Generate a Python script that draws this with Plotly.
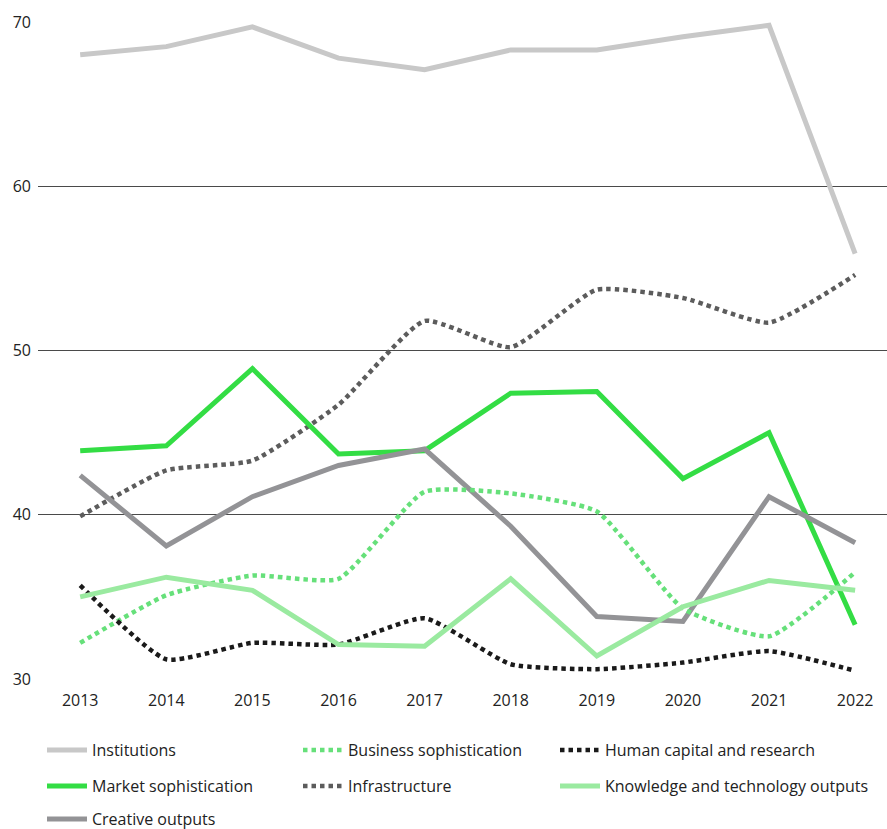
import plotly.graph_objects as go

years = [2013, 2014, 2015, 2016, 2017, 2018, 2019, 2020, 2021, 2022]

institutions = [68.0, 68.5, 69.7, 67.8, 67.1, 68.3, 68.3, 69.1, 69.8, 55.9]
business_soph = [32.2, 35.1, 36.3, 36.1, 41.4, 41.3, 40.2, 34.3, 32.6, 36.5]
human_capital = [35.7, 31.2, 32.2, 32.1, 33.7, 30.9, 30.6, 31.0, 31.7, 30.5]
market_soph = [43.9, 44.2, 48.9, 43.7, 43.9, 47.4, 47.5, 42.2, 45.0, 33.3]
infrastructure = [39.9, 42.7, 43.3, 46.7, 51.8, 50.2, 53.7, 53.2, 51.7, 54.6]
knowledge_tech = [35.0, 36.2, 35.4, 32.1, 32.0, 36.1, 31.4, 34.4, 36.0, 35.4]
creative = [42.4, 38.1, 41.1, 43.0, 44.0, 39.3, 33.8, 33.5, 41.1, 38.3]

y_ticks = [30, 40, 50, 60, 70]

# name, values, colour, style, legend column, legend row
series = [
    ("Institutions", institutions, "#c8c8c8", "solid", 0, 0),
    ("Business sophistication", business_soph, "#66e07a", "dot", 1, 0),
    ("Human capital and research", human_capital, "#1a1a1a", "dot", 2, 0),
    ("Market sophistication", market_soph, "#33dd44", "solid", 0, 1),
    ("Infrastructure", infrastructure, "#5c5c5c", "dot", 1, 1),
    ("Knowledge and technology outputs", knowledge_tech, "#9aeaa0", "solid", 2, 1),
    ("Creative outputs", creative, "#939396", "solid", 0, 2),
]

col_x = [42, 298, 555]
row_y = [750, 786, 819]

fig = go.Figure()
draw_order = ["Institutions", "Infrastructure", "Market sophistication", "Creative outputs",
              "Business sophistication", "Human capital and research", "Knowledge and technology outputs"]
lookup = {s[0]: (i, s) for i, s in enumerate(series)}

font_family = "Open Sans, Noto Sans, sans-serif"
legends = {}
for name in draw_order:
    i, (n, vals, col, dash, cx, ry) = lookup[name]
    if dash == "dot":
        line = dict(color=col, width=4.5, dash="4.5px,4px", shape="spline", smoothing=0.5)
    else:
        line = dict(color=col, width=5)
    key = "legend" if i == 0 else f"legend{i + 1}"
    legends[key] = dict(orientation="h", xanchor="left", yanchor="middle",
                        x=col_x[cx] / 887, y=1 - row_y[ry] / 829,
                        xref="container", yref="container", itemwidth=40,
                        font=dict(size=16, color="#222", family=font_family),
                        bgcolor="rgba(0,0,0,0)")
    fig.add_trace(go.Scatter(x=years, y=vals, name=n, mode="lines", line=line, legend=key))

fig.update_layout(
    width=887, height=829,
    margin=dict(l=38, r=0, t=22, b=150, autoexpand=False),
    paper_bgcolor="white", plot_bgcolor="white",
    font=dict(family=font_family, size=16, color="#222"),
    xaxis=dict(range=[2012.51, 2022.37], tickvals=years, ticktext=[str(y) for y in years],
               showgrid=False, zeroline=False, showline=False, ticks="",
               tickfont=dict(size=16, color="#222"), ticklabelstandoff=10),
    yaxis=dict(range=[30, 70], tickvals=y_ticks, showgrid=True, gridcolor="#4a4a4a",
               gridwidth=1, zeroline=False, showline=False, ticks="",
               tickfont=dict(size=16, color="#222"), ticklabelstandoff=6),
    showlegend=True,
    **legends,
)

fig.write_html("out.html", config={"displayModeBar": False},
               post_script="document.body.style.margin='0';document.body.style.padding='0';")
